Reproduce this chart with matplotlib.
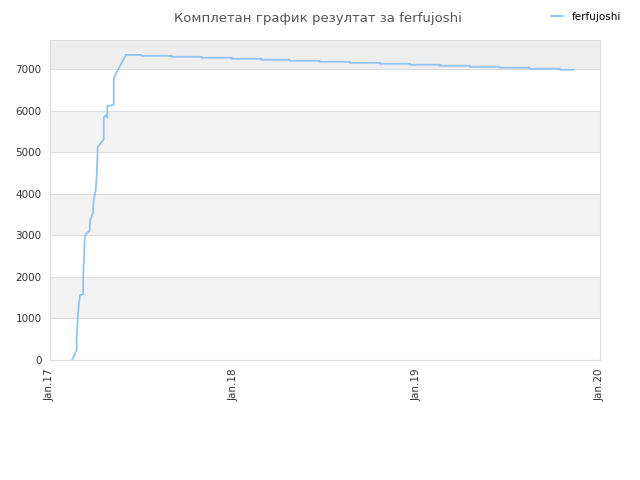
import numpy as np
import matplotlib
matplotlib.use("Agg")
import matplotlib.pyplot as plt
import matplotlib.dates as mdates
from datetime import datetime

# rising part
ramp_dates = ["2017-02-14", "2017-02-23", "2017-02-23", "2017-02-26", "2017-02-28",
              "2017-03-02", "2017-03-08", "2017-03-08", "2017-03-11", "2017-03-13",
              "2017-03-21", "2017-03-22", "2017-03-27", "2017-03-29", "2017-04-02",
              "2017-04-04", "2017-04-06", "2017-04-18", "2017-04-18", "2017-04-22",
              "2017-04-25", "2017-04-25", "2017-05-08", "2017-05-08", "2017-05-17",
              "2017-06-01"]
ramp_vals = [0, 240, 560, 1120, 1400,
             1560, 1580, 1960, 2890, 3030,
             3110, 3370, 3510, 3850, 4090,
             4410, 5130, 5310, 5840, 5890,
             5840, 6110, 6140, 6780, 7000,
             7340]

# slow decline, steps
flat_dates = ["2017-06-01", "2017-07-02", "2017-08-31", "2017-10-30", "2017-12-29",
              "2018-02-26", "2018-04-23", "2018-06-22", "2018-08-21", "2018-10-20",
              "2018-12-19", "2019-02-16", "2019-04-17", "2019-06-15", "2019-08-14",
              "2019-10-13", "2019-11-09"]
flat_vals = [7340, 7320, 7296, 7272, 7248,
             7224, 7200, 7176, 7152, 7128,
             7104, 7080, 7056, 7032, 7008,
             6984, 6984]

series_name = "ferfujoshi"
title = "Комплетан график резултат за ferfujoshi"
x_ticks = ["2017-01-01", "2018-01-01", "2019-01-01", "2020-01-01"]
x_labels = ["Jan.17", "Jan.18", "Jan.19", "Jan.20"]
y_ticks = [0, 1000, 2000, 3000, 4000, 5000, 6000, 7000]

to_dt = lambda lst: [datetime.strptime(s, "%Y-%m-%d") for s in lst]

fig = plt.figure(figsize=(6.4, 4.8), dpi=100)
ax = fig.add_axes([50/640, 120/480, 550/640, 320/480])

ymax = 7700
# alternating bands
for i, lo in enumerate(range(0, ymax, 1000)):
    hi = min(lo + 1000, ymax)
    if i % 2 == 1:
        c = "#eeeeee" if hi == ymax else "#f3f3f3"
        ax.axhspan(lo, hi, color=c, zorder=0, lw=0)

color = "#90c4f4"
ax.plot(to_dt(ramp_dates), ramp_vals, color=color, lw=1.3, zorder=3, label=series_name)
ax.step(to_dt(flat_dates), flat_vals, where="post", color=color, lw=1.3, zorder=3,
        snap=False)

ax.set_xlim(datetime(2017, 1, 1), datetime(2020, 1, 1))
ax.set_ylim(0, ymax)
ax.set_yticks(y_ticks)
ax.set_xticks(to_dt(x_ticks))
ax.set_xticklabels(x_labels, rotation=90)
ax.grid(axis="y", color="#dddddd", lw=0.8, zorder=1)
ax.set_axisbelow(True)
ax.tick_params(length=0, labelsize=7.5, colors="#333333", pad=6)
for sp in ax.spines.values():
    sp.set_color("#dddddd")

fig.text(0.497, 0.975, title, ha="center", va="top", fontsize=9.5, color="#555555")
leg = fig.legend(loc="upper right", bbox_to_anchor=(0.985, 0.995), frameon=False,
                 fontsize=7.5, handlelength=1.2, handletextpad=0.8)

fig.savefig("out.png", dpi=100)
